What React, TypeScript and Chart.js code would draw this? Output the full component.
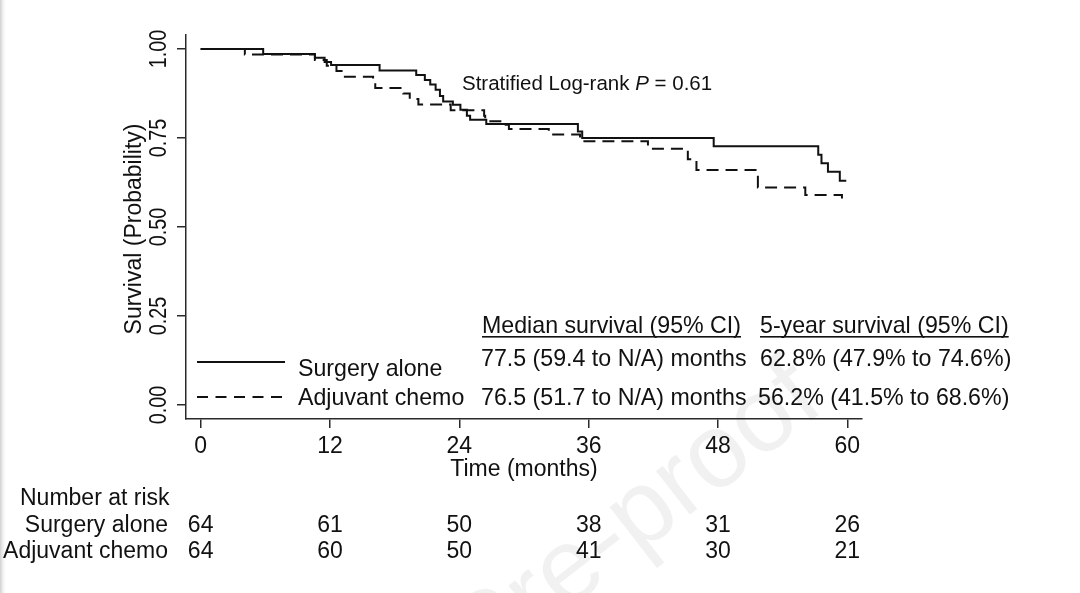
import React, { useEffect, useRef } from "react";
import { Chart, registerables } from "chart.js";

Chart.register(...registerables);

const FONT = '"Liberation Sans", Arial, Helvetica, sans-serif';

// Kaplan-Meier step points (months, survival probability)
const surgeryMonths = [0, 5.8, 10.6, 11.5, 12.1, 16.6, 20.0, 20.8, 21.3, 21.8, 22.2, 22.5, 23.4, 24.1, 24.7, 25.0, 26.5, 35.0, 35.4, 47.6, 57.3, 57.6, 58.2, 59.3, 59.9];
const surgerySurvival = [1.0, 0.986, 0.975, 0.963, 0.955, 0.939, 0.927, 0.913, 0.9, 0.885, 0.868, 0.852, 0.843, 0.829, 0.812, 0.801, 0.789, 0.768, 0.75, 0.727, 0.703, 0.679, 0.655, 0.63, 0.63];

const chemoMonths = [0, 4.1, 10.6, 11.7, 12.6, 13.2, 16.0, 16.2, 18.8, 19.4, 20.2, 23.2, 26.3, 26.4, 28.3, 28.6, 32.3, 35.2, 41.5, 45.2, 46.0, 51.7, 56.1, 59.5];
const chemoSurvival = [1.0, 0.984, 0.969, 0.953, 0.938, 0.922, 0.906, 0.89, 0.875, 0.859, 0.844, 0.828, 0.812, 0.797, 0.787, 0.775, 0.76, 0.741, 0.72, 0.69, 0.66, 0.611, 0.59, 0.562];

const xTicks = [0, 12, 24, 36, 48, 60];
const yTicks = [0, 0.25, 0.5, 0.75, 1];

const riskSurgery = [64, 61, 50, 38, 31, 26];
const riskChemo = [64, 60, 50, 41, 30, 21];

const groups = ["Surgery alone", "Adjuvant chemo"];
const medianHeader = "Median survival (95% CI)";
const fiveYearHeader = "5-year survival (95% CI)";
const medianSurvival = ["77.5 (59.4 to N/A) months", "76.5 (51.7 to N/A) months"];
const fiveYearSurvival = ["62.8% (47.9% to 74.6%)", "56.2% (41.5% to 68.6%)"];

const INK = "#111";
const TS = 23.2;

function drawText(
  ctx: CanvasRenderingContext2D,
  s: string,
  x: number,
  y: number,
  size: number,
  align: CanvasTextAlign = "left",
  style = ""
) {
  ctx.font = `${style} ${size}px ${FONT}`.trim();
  ctx.textAlign = align;
  ctx.textBaseline = "alphabetic";
  ctx.fillText(s, x, y);
}

const decor = {
  id: "decor",
  beforeDraw(chart: any) {
    const ctx: CanvasRenderingContext2D = chart.ctx;
    ctx.save();
    ctx.fillStyle = "#ffffff";
    ctx.fillRect(0, 0, chart.width, chart.height);
    const g = ctx.createLinearGradient(0, 0, 7, 0);
    g.addColorStop(0, "#cfcfcf");
    g.addColorStop(1, "rgba(255,255,255,0)");
    ctx.fillStyle = g;
    ctx.fillRect(0, 0, 7, chart.height);
    // watermark
    ctx.translate(805, 380);
    ctx.rotate(-0.66);
    ctx.font = `105px ${FONT}`;
    ctx.textAlign = "right";
    ctx.textBaseline = "alphabetic";
    ctx.fillStyle = "rgba(0,0,0,0.055)";
    ctx.fillText("Journal Pre-proof", 0, 36);
    ctx.restore();
  },
  afterDraw(chart: any) {
    const ctx: CanvasRenderingContext2D = chart.ctx;
    const xs = chart.scales.x;
    const ys = chart.scales.y;
    ctx.save();
    ctx.fillStyle = INK;

    // y tick labels (rotated)
    yTicks.forEach((v) => {
      const py = ys.getPixelForValue(v);
      ctx.save();
      ctx.translate(165.5, py);
      ctx.rotate(-Math.PI / 2);
      ctx.scale(0.86, 1);
      drawText(ctx, v.toFixed(2), 0, 0, 23, "center");
      ctx.restore();
    });
    // y title
    ctx.save();
    ctx.translate(141, (chart.chartArea.top + chart.chartArea.bottom) / 2 + 2);
    ctx.rotate(-Math.PI / 2);
    drawText(ctx, "Survival (Probability)", 0, 0, 23, "center");
    ctx.restore();

    // x tick labels
    xTicks.forEach((v) => {
      drawText(ctx, String(v), xs.getPixelForValue(v), 453, 23, "center");
    });
    drawText(ctx, "Time (months)", (chart.chartArea.left + chart.chartArea.right) / 2, 476, 23, "center");

    // P-value
    let px = 462;
    const py = 90;
    const a = "Stratified Log-rank ";
    drawText(ctx, a, px, py, 20.5);
    px += ctx.measureText(a).width;
    drawText(ctx, "P", px, py, 20.5, "left", "italic");
    px += ctx.measureText("P").width;
    drawText(ctx, " = 0.61", px, py, 20.5);

    // table headers (underlined)
    const headers: [string, number][] = [
      [medianHeader, 482],
      [fiveYearHeader, 760],
    ];
    headers.forEach(([s, x]) => {
      drawText(ctx, s, x, 333, TS);
      const w = ctx.measureText(s).width;
      ctx.fillRect(x, 336, w, 1.6);
    });

    // legend rows
    const rowY = [366, 405];
    const nameY = [376, 405];
    const lineY = [362, 397];
    ctx.strokeStyle = INK;
    ctx.lineWidth = 2;
    lineY.forEach((ly, i) => {
      ctx.save();
      ctx.setLineDash(i === 0 ? [] : [11, 7.5]);
      ctx.beginPath();
      ctx.moveTo(197, ly);
      ctx.lineTo(285, ly);
      ctx.stroke();
      ctx.restore();
      drawText(ctx, groups[i], 298, nameY[i], TS);
      drawText(ctx, medianSurvival[i], 481, rowY[i], TS);
      drawText(ctx, fiveYearSurvival[i], i === 0 ? 760 : 758, rowY[i], TS);
    });

    // number at risk
    drawText(ctx, "Number at risk", 20, 505, 23);
    const riskRows = [riskSurgery, riskChemo];
    const riskY = [532, 558];
    riskRows.forEach((row, i) => {
      drawText(ctx, groups[i], 168, riskY[i], 23, "right");
      row.forEach((n, j) => {
        drawText(ctx, String(n), xs.getPixelForValue(xTicks[j]), riskY[i], 23, "center");
      });
    });
    ctx.restore();
  },
};

export default function App() {
  const ref = useRef<HTMLCanvasElement | null>(null);
  useEffect(() => {
    const canvas = ref.current;
    if (!canvas) return;
    const axisColor = "#2a2a2a";
    const chart = new Chart(canvas, {
      type: "line",
      data: {
        datasets: [
          {
            label: groups[0],
            data: surgeryMonths.map((m, i) => ({ x: m, y: surgerySurvival[i] })),
            borderColor: INK,
            borderWidth: 2,
            stepped: true,
            pointRadius: 0,
            fill: false,
          },
          {
            label: groups[1],
            data: chemoMonths.map((m, i) => ({ x: m, y: chemoSurvival[i] })),
            borderColor: INK,
            borderWidth: 2,
            borderDash: [12, 7],
            stepped: true,
            pointRadius: 0,
            fill: false,
          },
        ],
      },
      options: {
        responsive: false,
        animation: false,
        devicePixelRatio: 1,
        layout: { padding: { left: 0, top: 35, right: 218, bottom: 0 } },
        plugins: { legend: { display: false }, tooltip: { enabled: false } },
        scales: {
          x: {
            type: "linear",
            min: -1.36,
            max: 61.36,
            afterBuildTicks: (s: any) => {
              s.ticks = xTicks.map((v) => ({ value: v }));
            },
            afterFit: (s: any) => {
              s.height = 174;
            },
            ticks: { display: false },
            grid: {
              display: true,
              drawOnChartArea: false,
              drawTicks: true,
              tickLength: 9,
              color: axisColor,
              tickColor: axisColor,
              lineWidth: 1.5,
            },
            border: { display: true, color: axisColor, width: 1.5 },
          },
          y: {
            type: "linear",
            min: -0.039,
            max: 1.039,
            afterBuildTicks: (s: any) => {
              s.ticks = yTicks.map((v) => ({ value: v }));
            },
            afterFit: (s: any) => {
              s.width = 186;
            },
            ticks: { display: false },
            grid: {
              display: true,
              drawOnChartArea: false,
              drawTicks: true,
              tickLength: 9,
              color: axisColor,
              tickColor: axisColor,
              lineWidth: 1.5,
            },
            border: { display: true, color: axisColor, width: 1.5 },
          },
        },
      },
      plugins: [decor],
    } as any);
    return () => chart.destroy();
  }, []);
  return (
    <canvas
      ref={ref}
      width={1080}
      height={593}
      style={{ position: "fixed", left: 0, top: 0, width: 1080, height: 593, display: "block" }}
    />
  );
}
